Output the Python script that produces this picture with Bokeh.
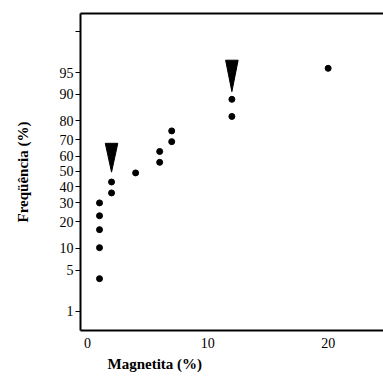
import math
from bokeh.plotting import figure
from bokeh.models import FixedTicker, LinearAxis, Title, ColumnDataSource
from bokeh.embed import file_html
from bokeh.resources import INLINE

# Data
magnetita = [1.0, 1.0, 1.0, 1.0, 1.0, 2.0, 2.0, 4.0, 6.0, 6.0, 7.0, 7.0, 12.0, 12.0, 20.0]
frequencia = [30, 23, 16.6, 10.2, 3.7, 43, 36, 49, 63, 56, 69, 75, 88.5, 82, 95.7]

y_tick_values = [1, 5, 10, 20, 30, 40, 50, 60, 70, 80, 90, 95, 99]
y_tick_labels = ["1", "5", "10", "20", "30", "40", "50", "60", "70", "80", "90", "95", ""]
x_tick_values = [0, 10, 20]

# arrows: x position, top and tip in percent
arrow_x = [2.0, 12.0]
arrow_top = [68, 96.8]
arrow_tip = [49.5, 90.8]
arrow_half_width = 0.52


def probit(p_pct):
    p = p_pct / 100.0
    lo, hi = -8.0, 8.0
    for _ in range(80):
        mid = 0.5 * (lo + hi)
        if 0.5 * (1 + math.erf(mid / math.sqrt(2))) < p:
            lo = mid
        else:
            hi = mid
    return 0.5 * (lo + hi)


zy = [probit(v) for v in frequencia]

p = figure(width=383, height=376, output_backend="svg", toolbar_location=None,
           x_range=(-0.58, 24.6), y_range=(-2.65, 2.63),
           min_border_left=80, min_border_right=0, min_border_top=13, min_border_bottom=46)
p.outline_line_color = None
p.xgrid.visible = False
p.ygrid.visible = False
p.background_fill_color = "white"
p.border_fill_color = "white"

font = "Liberation Serif"

# y axis
ya = p.yaxis[0]
ya.ticker = FixedTicker(ticks=[probit(v) for v in y_tick_values])
ya.major_label_overrides = {probit(v): lab for v, lab in zip(y_tick_values, y_tick_labels)}
ya.minor_tick_line_color = None
ya.major_tick_in = 0
ya.major_tick_out = 5
ya.major_tick_line_width = 1
ya.axis_line_width = 2
ya.major_label_text_font = font
ya.major_label_text_font_size = "14px"
ya.major_label_text_color = "black"
ya.major_label_standoff = 2
ya.axis_label = "Freqüência (%)"
ya.axis_label_text_font = font
ya.axis_label_text_font_style = "bold"
ya.axis_label_text_font_size = "15px"
ya.axis_label_text_color = "black"
ya.axis_label_standoff = 26

# x axis
xa = p.xaxis[0]
xa.ticker = FixedTicker(ticks=x_tick_values)
xa.minor_tick_line_color = None
xa.major_tick_in = 0
xa.major_tick_out = 0
xa.axis_line_width = 2
xa.major_label_text_font = font
xa.major_label_text_font_size = "14px"
xa.major_label_text_color = "black"
xa.major_label_standoff = 7

# top border
top = LinearAxis(ticker=FixedTicker(ticks=[]), axis_line_width=2,
                 major_tick_line_color=None, minor_tick_line_color=None,
                 major_label_text_font_size="0px")
p.add_layout(top, "above")

# points
src = ColumnDataSource(dict(x=magnetita, y=zy))
p.scatter("x", "y", source=src, size=6, color="black")

# arrows
xs = [[ax - arrow_half_width, ax + arrow_half_width, ax] for ax in arrow_x]
ys = [[probit(t), probit(t), probit(b)] for t, b in zip(arrow_top, arrow_tip)]
p.patches(xs, ys, color="black", line_width=1)

# x axis label
p.add_layout(Title(text="Magnetita (%)", text_font=font, text_font_style="bold",
                   text_font_size="15px", text_color="black", align="left",
                   offset=27, standoff=6), "below")

open("out.html", "w").write(file_html(p, INLINE))
